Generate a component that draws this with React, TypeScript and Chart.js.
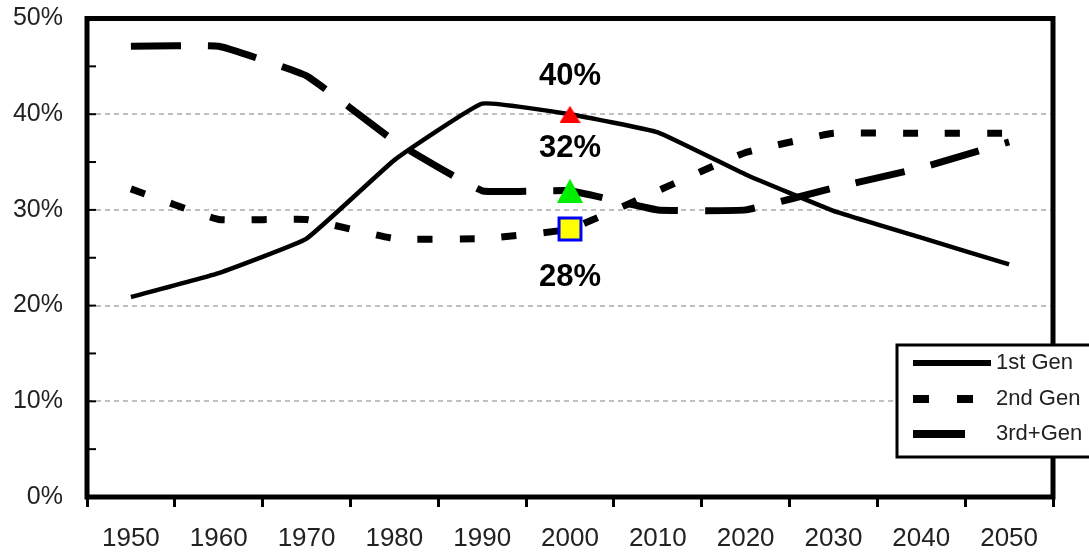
import React, { useEffect, useRef } from 'react';
import { Chart, registerables } from 'chart.js';

Chart.register(...registerables);

const years = ['1950', '1960', '1970', '1980', '1990', '2000', '2010', '2020', '2030', '2040', '2050'];
const firstGen = [20.9, 23.4, 27.0, 35.2, 41.1, 40.0, 38.1, 33.7, 29.9, 27.1, 24.3];
const secondGen = [32.2, 29.0, 29.0, 27.0, 27.0, 28.0, 32.0, 36.0, 38.0, 38.0, 38.0];
const thirdGen = [47.1, 47.1, 44.0, 37.2, 32.0, 32.0, 30.0, 30.0, 32.3, 34.4, 37.1];
const seriesNames = ['1st Gen', '2nd Gen', '3rd+Gen'];
const markerYear = '2000';
const markerValues = [40, 32, 28];
const markerLabels = ['40%', '32%', '28%'];

const FONT = '"Liberation Sans", Arial, Helvetica, sans-serif';

function makeTriangle(w: number, h: number, color: string): HTMLCanvasElement {
  const c = document.createElement('canvas');
  c.width = w;
  c.height = h;
  const ctx = c.getContext('2d')!;
  ctx.fillStyle = color;
  ctx.beginPath();
  ctx.moveTo(w / 2, 0);
  ctx.lineTo(w, h);
  ctx.lineTo(0, h);
  ctx.closePath();
  ctx.fill();
  return c;
}

const markerSeries = (v: number) => years.map((y) => (y === markerYear ? v : null));

export default function App() {
  const ref = useRef<HTMLCanvasElement | null>(null);

  useEffect(() => {
    if (!ref.current) return;
    const redTri = makeTriangle(21, 17, '#ff0000');
    const greenTri = makeTriangle(26, 24, '#00ee00');

    const legendDash = [[], [16, 28], [52, 40]];
    const legendWidth = [6, 8, 8];

    const decor = {
      id: 'decor',
      afterDraw(chart: any) {
        const { ctx, chartArea, scales } = chart;
        const { left, right, top, bottom } = chartArea;
        ctx.save();
        ctx.strokeStyle = '#000';
        ctx.lineWidth = 5;
        ctx.setLineDash([]);
        ctx.strokeRect(left, top, right - left, bottom - top);
        ctx.lineWidth = 2;
        for (let v = 5; v < 50; v += 5) {
          const y = scales.y.getPixelForValue(v);
          ctx.beginPath();
          ctx.moveTo(left, y);
          ctx.lineTo(left + 9, y);
          ctx.stroke();
        }
        const offsets = [-38, -42, 48];
        ctx.font = `bold 31px ${FONT}`;
        ctx.fillStyle = '#000';
        ctx.textAlign = 'center';
        ctx.textBaseline = 'middle';
        const idx = years.indexOf(markerYear);
        for (let i = 0; i < 3; i++) {
          const meta = chart.getDatasetMeta(i);
          const pt = meta.data[idx];
          if (pt) ctx.fillText(markerLabels[i], pt.x, pt.y + offsets[i]);
        }
        const x0 = 897, y0 = 345, y1 = 457;
        ctx.fillStyle = '#fff';
        ctx.fillRect(x0, y0, 1100 - x0, y1 - y0);
        ctx.lineWidth = 3;
        ctx.strokeStyle = '#000';
        ctx.strokeRect(x0, y0, 1100 - x0, y1 - y0);
        const rows = [y0 + 18, y0 + 54, y0 + 89];
        ctx.font = `22px ${FONT}`;
        ctx.textAlign = 'left';
        ctx.textBaseline = 'middle';
        for (let i = 0; i < 3; i++) {
          ctx.strokeStyle = '#000';
          ctx.lineWidth = legendWidth[i];
          ctx.lineCap = 'butt';
          ctx.setLineDash(legendDash[i]);
          ctx.beginPath();
          ctx.moveTo(913, rows[i]);
          ctx.lineTo(991, rows[i]);
          ctx.stroke();
          ctx.setLineDash([]);
          ctx.fillStyle = '#222';
          ctx.fillText(seriesNames[i], 996, rows[i]);
        }
        ctx.restore();
      },
    };

    const chart = new Chart(ref.current, {
      type: 'line',
      data: {
        labels: years,
        datasets: [
          {
            label: 'marker40',
            data: markerSeries(markerValues[0]),
            showLine: false,
            pointStyle: redTri as any,
            pointRadius: 10,
          },
          {
            label: 'marker32',
            data: markerSeries(markerValues[1]),
            showLine: false,
            pointStyle: greenTri as any,
            pointRadius: 13,
          },
          {
            label: 'marker28',
            data: markerSeries(markerValues[2]),
            showLine: false,
            pointStyle: 'rect',
            pointRadius: 15.5,
            pointBackgroundColor: '#ffff00',
            pointBorderColor: '#0000ff',
            pointBorderWidth: 3,
          },
          {
            label: seriesNames[0],
            data: firstGen,
            borderColor: '#000',
            borderWidth: 4.5,
            pointRadius: 0,
            tension: 0.1,
            fill: false,
          },
          {
            label: seriesNames[1],
            data: secondGen,
            borderColor: '#000',
            borderWidth: 7,
            borderDash: [15, 27],
            borderCapStyle: 'butt',
            pointRadius: 0,
            tension: 0.1,
            fill: false,
          },
          {
            label: seriesNames[2],
            data: thirdGen,
            borderColor: '#000',
            borderWidth: 7,
            borderDash: [50, 27],
            borderCapStyle: 'butt',
            pointRadius: 0,
            tension: 0.1,
            fill: false,
          },
        ],
      },
      options: {
        animation: false,
        responsive: true,
        maintainAspectRatio: false,
        layout: { padding: { top: 16, right: 36, left: 0, bottom: 0 } },
        plugins: {
          legend: { display: false },
          tooltip: { enabled: false },
          title: { display: false },
        },
        scales: {
          x: {
            type: 'category',
            offset: true,
            grid: {
              offset: true,
              drawOnChartArea: false,
              drawTicks: true,
              tickLength: 10,
              tickWidth: 3,
              tickColor: '#000',
            },
            border: { display: false },
            ticks: {
              color: '#222',
              font: { family: FONT, size: 26 },
              padding: 16,
              maxRotation: 0,
              autoSkip: false,
            },
            afterFit: (s: any) => {
              s.height = 55;
              s.paddingLeft = 0;
              s.paddingRight = 0;
            },
          },
          y: {
            min: 0,
            max: 50,
            ticks: {
              stepSize: 10,
              color: '#222',
              font: { family: FONT, size: 25 },
              padding: 24,
              callback: (v: any) => `${v}%`,
            },
            grid: {
              drawTicks: false,
              lineWidth: 2,
              color: (c: any) => (c.tick && (c.tick.value === 0 || c.tick.value === 50) ? 'rgba(0,0,0,0)' : '#c0c0c0'),
            },
            border: { display: false, dash: [5, 4] },
            afterFit: (s: any) => {
              s.width = 87;
              s.paddingTop = 0;
              s.paddingBottom = 0;
            },
          },
        },
      },
      plugins: [decor],
    });
    return () => chart.destroy();
  }, []);

  return (
    <div style={{ position: 'fixed', left: 0, top: 0, width: 1089, height: 552, background: '#fff' }}>
      <canvas ref={ref} />
    </div>
  );
}
